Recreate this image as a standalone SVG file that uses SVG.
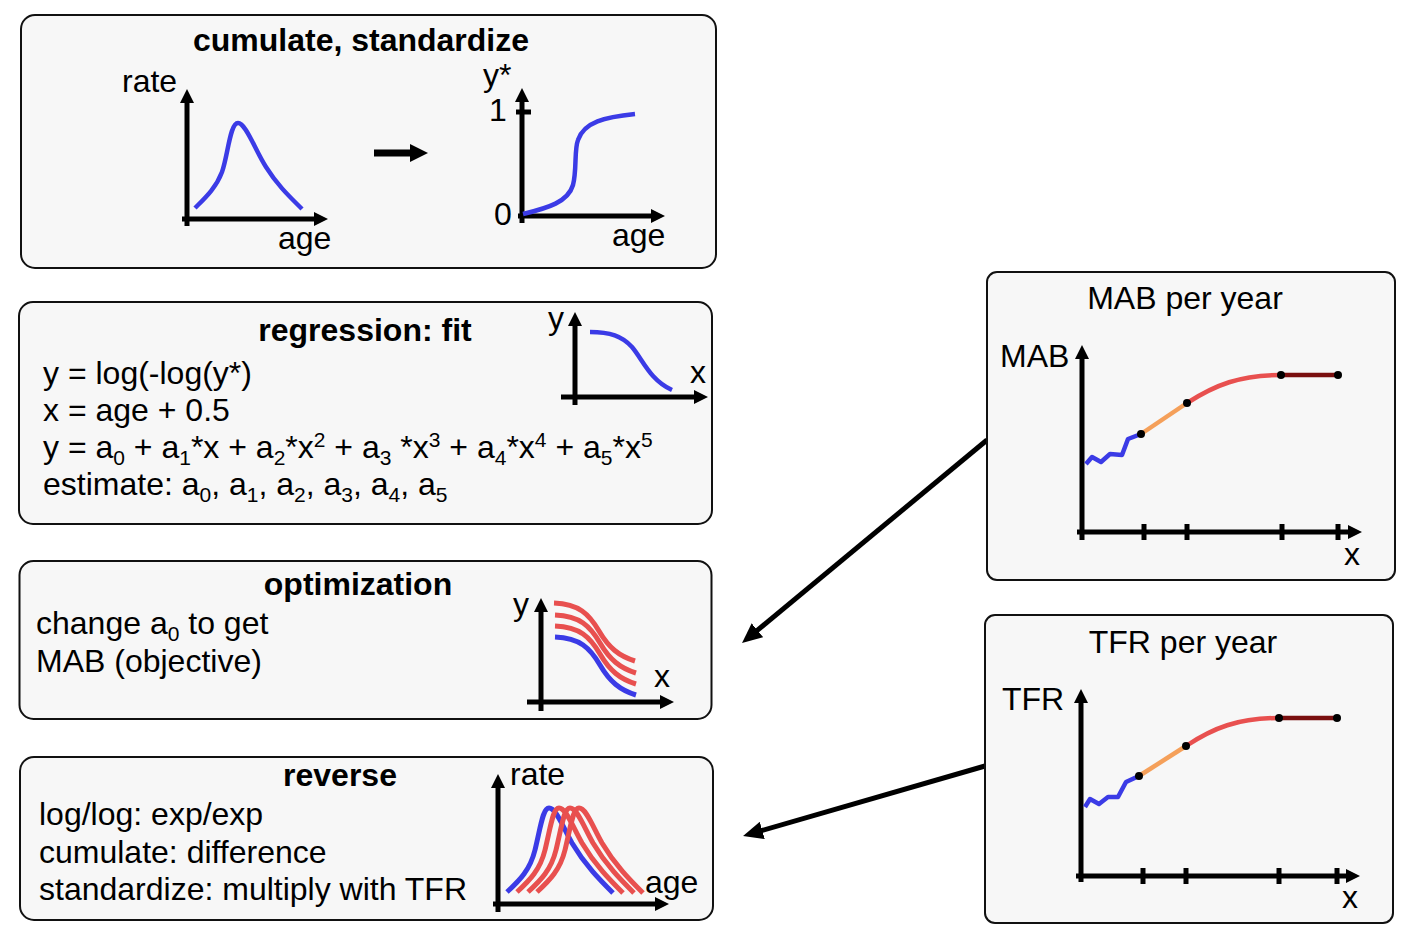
<svg xmlns="http://www.w3.org/2000/svg" width="1417" height="946" viewBox="0 0 1417 946">
<style>
text{font-family:"Liberation Sans",Arial,Helvetica,sans-serif;font-size:32px;fill:#000}
.t{font-weight:bold}
.c{text-anchor:middle}
.s{font-size:21px}
.box{fill:#f7f7f7;stroke:#111;stroke-width:2}
.ax{fill:none;stroke:#000;stroke-width:5;marker-end:url(#ah)}
.tk{stroke:#000;stroke-width:5}
.bl{fill:none;stroke:#3b3be6;stroke-width:4.5;stroke-linejoin:round}
.rd{fill:none;stroke:#e8504f;stroke-width:5}
.bl5{fill:none;stroke:#3b3be6;stroke-width:5}
.or{fill:none;stroke:#f5a05a;stroke-width:4.5}
.cr{fill:none;stroke:#e8504f;stroke-width:4.5}
.dr{fill:none;stroke:#7a0f0f;stroke-width:4.5}
.dot{fill:#000}
.conn{fill:none;stroke:#000;stroke-width:5;marker-end:url(#ch)}
</style>
<defs>
<marker id="ah" markerUnits="userSpaceOnUse" markerWidth="14" markerHeight="14" viewBox="0 0 14 14" refX="4" refY="7" orient="auto">
<path d="M0,0 L14,7 L0,14 z" fill="#000"/>
</marker>
<marker id="ch" markerUnits="userSpaceOnUse" markerWidth="20" markerHeight="18" viewBox="0 0 20 18" refX="6" refY="9" orient="auto">
<path d="M0,0 L20,9 L0,18 z" fill="#000"/>
</marker>
<path id="optc" d="M555,637 C580,638 590,648 600,665 C610,682 620,690 636,695"/>
<path id="revc" d="M507,892 C520,880 530,870 535,850 C541,825 543,808 549,808 C556,808 562,825 572,843 C585,865 600,880 613,893"/>
</defs>

<g id="connectors">
<line class="conn" x1="987" y1="440" x2="752.8" y2="634.1"/>
<line class="conn" x1="985" y1="766" x2="756.5" y2="832.1"/>
</g>

<g id="cumulate">
<rect class="box" x="21" y="15" width="695" height="253" rx="14"/>
<text class="t c" x="361" y="51">cumulate, standardize</text>
<text x="122" y="92">rate</text>
<line class="ax" x1="187" y1="226" x2="187" y2="99"/>
<line class="ax" x1="182" y1="219" x2="318" y2="219"/>
<path class="bl" d="M195,208 C205,198 216,188 222,172 C228,155 230,123 238,123 C246,123 255,150 266,167 C278,186 290,197 302,209"/>
<text x="278" y="249">age</text>
<line x1="374" y1="153" x2="412" y2="153" stroke="#000" stroke-width="7"/>
<path d="M410,144 L428,153 L410,162 z" fill="#000"/>
<text x="483" y="86">y*</text>
<text x="489" y="121">1</text>
<text x="494" y="225">0</text>
<line class="ax" x1="522" y1="223" x2="522" y2="98"/>
<line class="ax" x1="518" y1="216" x2="655" y2="216"/>
<line class="tk" x1="516" y1="112" x2="531" y2="112"/>
<path class="bl" d="M523,214 C548,208 568,202 573,185 C577,170 574,150 578,140 C584,122 605,117 635,114"/>
<text x="612" y="246">age</text>
</g>

<g id="regression">
<rect class="box" x="19" y="302" width="693" height="222" rx="14"/>
<text class="t c" x="365" y="341">regression: fit</text>
<text x="43" y="384">y = log(-log(y*)</text>
<text x="43" y="421">x = age + 0.5</text>
<text x="43" y="458">y = a<tspan class="s" dy="7">0</tspan><tspan dy="-7"> + a</tspan><tspan class="s" dy="7">1</tspan><tspan dy="-7">*x + a</tspan><tspan class="s" dy="7">2</tspan><tspan dy="-7">*x</tspan><tspan class="s" dy="-11">2</tspan><tspan dy="11"> + a</tspan><tspan class="s" dy="7">3</tspan><tspan dy="-7"> *x</tspan><tspan class="s" dy="-11">3</tspan><tspan dy="11"> + a</tspan><tspan class="s" dy="7">4</tspan><tspan dy="-7">*x</tspan><tspan class="s" dy="-11">4</tspan><tspan dy="11"> + a</tspan><tspan class="s" dy="7">5</tspan><tspan dy="-7">*x</tspan><tspan class="s" dy="-11">5</tspan></text>
<text x="43" y="495">estimate: a<tspan class="s" dy="7">0</tspan><tspan dy="-7">, a</tspan><tspan class="s" dy="7">1</tspan><tspan dy="-7">, a</tspan><tspan class="s" dy="7">2</tspan><tspan dy="-7">, a</tspan><tspan class="s" dy="7">3</tspan><tspan dy="-7">, a</tspan><tspan class="s" dy="7">4</tspan><tspan dy="-7">, a</tspan><tspan class="s" dy="7">5</tspan></text>
<text x="548" y="329">y</text>
<text x="690" y="383">x</text>
<line class="ax" x1="575" y1="405" x2="575" y2="322"/>
<line class="ax" x1="561" y1="397" x2="698" y2="397"/>
<path class="bl" d="M590,332 C610,332 622,336 632,347 C643,360 650,380 672,390"/>
</g>

<g id="optimization">
<rect class="box" x="19.5" y="561" width="692" height="158" rx="14"/>
<text class="t c" x="358" y="595">optimization</text>
<text x="36" y="634">change a<tspan class="s" dy="7">0</tspan><tspan dy="-7"> to get</tspan></text>
<text x="36" y="672">MAB (objective)</text>
<text x="513" y="615">y</text>
<text x="654" y="687">x</text>
<line class="ax" x1="541" y1="711" x2="541" y2="608"/>
<line class="ax" x1="527" y1="702" x2="664" y2="702"/>
<use href="#optc" class="bl5"/>
<use href="#optc" class="rd" transform="translate(0,-11)"/>
<use href="#optc" class="rd" transform="translate(0,-22)"/>
<use href="#optc" class="rd" transform="translate(-1,-34)"/>
</g>

<g id="reverse">
<rect class="box" x="20" y="757" width="693" height="163" rx="14"/>
<text class="t c" x="340" y="786">reverse</text>
<text x="39" y="825">log/log: exp/exp</text>
<text x="39" y="863">cumulate: difference</text>
<text x="39" y="900">standardize: multiply with TFR</text>
<text x="510" y="785">rate</text>
<text x="645" y="893">age</text>
<line class="ax" x1="498" y1="912" x2="498" y2="784"/>
<line class="ax" x1="493" y1="904" x2="659" y2="904"/>
<use href="#revc" class="bl5"/>
<use href="#revc" class="rd" transform="translate(10,0)"/>
<use href="#revc" class="rd" transform="translate(21,0)"/>
<use href="#revc" class="rd" transform="translate(30,0)"/>
</g>

<g id="mab">
<rect class="box" x="987" y="272" width="408" height="308" rx="10"/>
<text class="c" x="1185" y="309">MAB per year</text>
<text x="1000" y="367">MAB</text>
<text x="1344" y="565">x</text>
<line class="ax" x1="1082" y1="540" x2="1082" y2="355"/>
<line class="ax" x1="1077" y1="532" x2="1352" y2="532"/>
<line class="tk" x1="1144" y1="524" x2="1144" y2="540"/>
<line class="tk" x1="1187" y1="524" x2="1187" y2="540"/>
<line class="tk" x1="1282" y1="524" x2="1282" y2="540"/>
<line class="tk" x1="1338" y1="524" x2="1338" y2="540"/>
<polyline class="bl" points="1086,464 1092,457 1101,462 1110,454 1122,455 1128,439 1141,434"/>
<line class="or" x1="1141" y1="434" x2="1187" y2="403"/>
<path class="cr" d="M1187,403 C1215,385 1240,375 1281,375"/>
<line class="dr" x1="1281" y1="375" x2="1338" y2="375"/>
<circle class="dot" cx="1141" cy="434" r="4"/>
<circle class="dot" cx="1187" cy="403" r="4"/>
<circle class="dot" cx="1281" cy="375" r="4"/>
<circle class="dot" cx="1338" cy="375" r="4"/>
</g>

<g id="tfr">
<rect class="box" x="985" y="615" width="408" height="308" rx="10"/>
<text class="c" x="1183" y="653">TFR per year</text>
<text x="1002" y="710">TFR</text>
<text x="1342" y="908">x</text>
<line class="ax" x1="1081" y1="882" x2="1081" y2="699"/>
<line class="ax" x1="1076" y1="876" x2="1350" y2="876"/>
<line class="tk" x1="1143" y1="868" x2="1143" y2="884"/>
<line class="tk" x1="1186" y1="868" x2="1186" y2="884"/>
<line class="tk" x1="1279" y1="868" x2="1279" y2="884"/>
<line class="tk" x1="1337" y1="868" x2="1337" y2="884"/>
<polyline class="bl" points="1085,807 1090,799 1099,804 1108,797 1118,797 1126,782 1139,776"/>
<line class="or" x1="1139" y1="776" x2="1186" y2="746"/>
<path class="cr" d="M1186,746 C1213,728 1238,718 1279,718"/>
<line class="dr" x1="1279" y1="718" x2="1337" y2="718"/>
<circle class="dot" cx="1139" cy="776" r="4"/>
<circle class="dot" cx="1186" cy="746" r="4"/>
<circle class="dot" cx="1279" cy="718" r="4"/>
<circle class="dot" cx="1337" cy="718" r="4"/>
</g>
</svg>
